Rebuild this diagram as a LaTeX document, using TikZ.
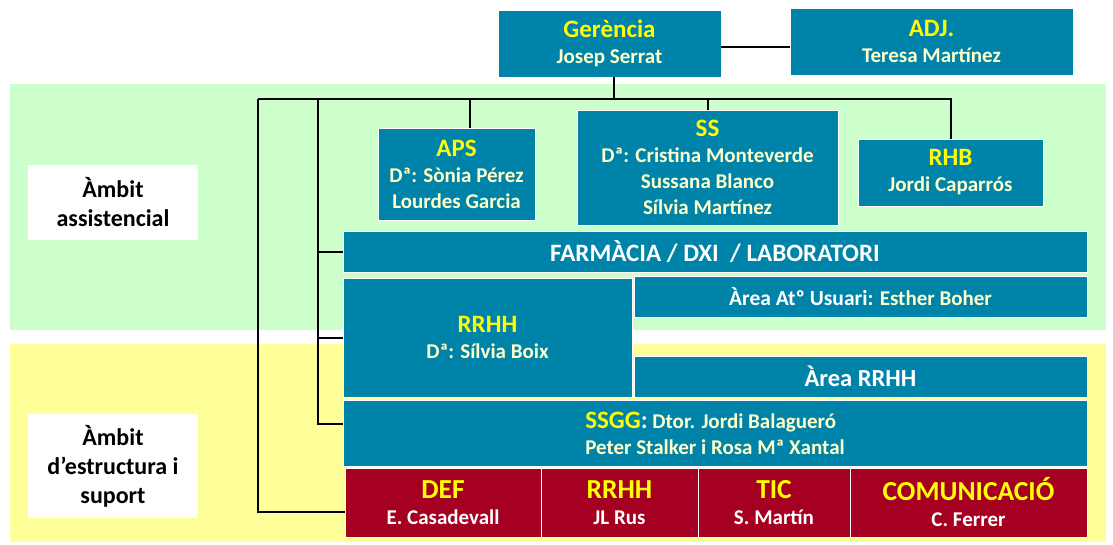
\documentclass[tikz,border=0pt]{standalone}
\usepackage{fontspec}
\setmainfont{Carlito}
\usepackage{tikz}
\definecolor{unitblue}{RGB}{0,131,168}
\definecolor{unitred}{RGB}{165,0,33}
\definecolor{titley}{RGB}{255,255,0}
\definecolor{namec}{RGB}{255,255,204}
\definecolor{assist}{RGB}{204,255,204}
\definecolor{suport}{RGB}{255,255,153}
\newcommand{\ttl}[1]{{\color{titley}\fontsize{25}{26}\selectfont #1}}
\newcommand{\rttl}[1]{{\color{titley}\fontsize{27.5}{28}\selectfont #1}}

\begin{document}
\begin{tikzpicture}[x=1pt,y=-1pt,
  unit/.style={draw=white, line width=0.8pt, fill=unitblue, text=namec,
    inner sep=0pt, align=center, font=\bfseries\fontsize{21}{26}\selectfont},
  redunit/.style={unit, fill=unitred, text=white},
  ambit/.style={fill=white, inner sep=0pt, align=center,
    font=\bfseries\fontsize{24}{29}\selectfont},
  bus/.style={line width=2pt}]
  \useasboundingbox (0,0) rectangle (1113,544);
  % the two bands
  \fill[assist] (10,84) rectangle (1106,330);
  \fill[suport] (10,344) rectangle (1106,542);
  \node[ambit, minimum width=170pt, minimum height=75pt] (amb1) at (113,202.5)
    {Àmbit\\assistencial};
  \node[ambit, minimum width=170pt, minimum height=104pt] (amb2) at (113,466)
    {Àmbit\\d’estructura i\\suport};

  % top
  \node[unit, minimum width=223pt, minimum height=67pt] (ger) at (609.5,43.5)
    {\ttl{Gerència}\\Josep Serrat};
  \node[unit, minimum width=283pt, minimum height=67pt] (adj) at (931.5,41.5)
    {\ttl{ADJ.}\\Teresa Martínez};

  % assistencial
  \node[unit, minimum width=157pt, minimum height=92pt] (aps) at (456.5,174)
    {\ttl{APS}\\Dª: Sònia Pérez\\Lourdes Garcia};
  \node[unit, minimum width=261pt, minimum height=115pt] (ss) at (707.5,167.5)
    {\ttl{SS}\\Dª: Cristina Monteverde\\Sussana Blanco\\Sílvia Martínez};
  \node[unit, minimum width=185pt, minimum height=67pt] (rhb) at (950.5,172.5)
    {\ttl{RHB}\\Jordi Caparrós};
  \node[unit, text=white, font=\bfseries\fontsize{25}{26}\selectfont,
    minimum width=744pt, minimum height=41pt] (farm) at (715,251.5)
    {FARMÀCIA / DXI \ / LABORATORI};
  \node[unit, minimum width=289pt, minimum height=119pt] (rrhh) at (487.5,337.5)
    {\ttl{RRHH}\\Dª: Sílvia Boix};
  \node[unit, minimum width=453pt, minimum height=41pt] (atu) at (860.5,297)
    {{\color{white}\fontsize{21.5}{26}\selectfont Àrea Atº Usuari:} Esther Boher};

  % estructura i suport
  \node[unit, text=white, font=\bfseries\fontsize{24.5}{26}\selectfont,
    minimum width=453pt, minimum height=41pt] (arrhh) at (860.5,376.5)
    {Àrea RRHH};
  \node[unit, align=left, font=\bfseries\fontsize{21}{26}\selectfont,
    minimum width=744pt, minimum height=66pt] (ssgg) at (715,433)
    {\ttl{SSGG}{\color{white}\fontsize{25}{26}\selectfont:} Dtor. Jordi Balagueró\\
     Peter Stalker i Rosa Mª Xantal};
  \node[redunit, minimum width=196pt, minimum height=69pt] (def) at (443,502.5)
    {\rttl{DEF}\\E. Casadevall};
  \node[redunit, minimum width=157pt, minimum height=69pt] (rrhhb) at (619.5,502.5)
    {\rttl{RRHH}\\JL Rus};
  \node[redunit, minimum width=152pt, minimum height=69pt] (tic) at (774,502.5)
    {\rttl{TIC}\\S. Martín};
  \node[redunit, minimum width=237pt, minimum height=69pt] (com) at (968.5,502.5)
    {\rttl{COMUNICACIÓ}\\C. Ferrer};

  % connectors
  \coordinate (busL) at (258,99);
  \coordinate (spine) at (318,99);
  \draw[bus] ([yshift=-3pt]ger.east) -- ([yshift=-3pt]adj.west |- ger.east);
  \draw[bus] ([xshift=4pt]ger.south) -- ([xshift=4pt]ger.south |- busL);
  \draw[bus] (busL) -- (rhb.north |- busL) -- (rhb.north);
  \draw[bus] ([xshift=13pt]aps.north |- busL) -- ([xshift=13pt]aps.north);
  \draw[bus] (ss.north |- busL) -- (ss.north);
  \draw[bus] (busL) |- ([yshift=-9.5pt]def.west);
  \draw[bus] (spine) |- ([yshift=9pt]ssgg.west);
  \draw[bus] (spine |- farm.west) -- (farm.west);
  \draw[bus] (spine |- rrhh.west) -- (rrhh.west);
\end{tikzpicture}
\end{document}
